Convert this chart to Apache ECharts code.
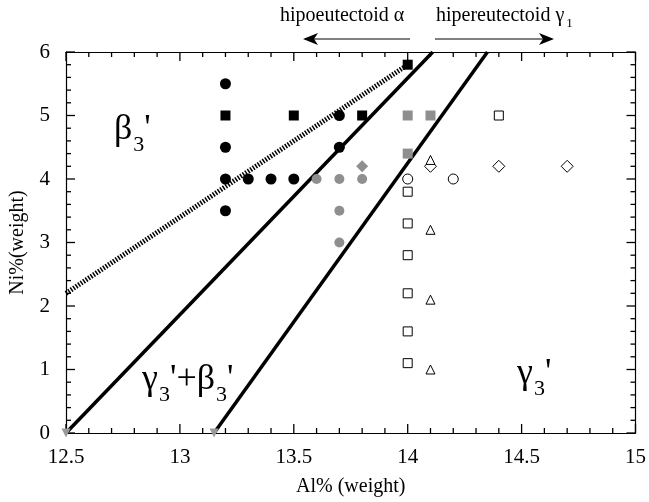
<!DOCTYPE html>
<html>
<head>
<meta charset="utf-8">
<script src="https://cdn.jsdelivr.net/npm/echarts@6/dist/echarts.min.js"></script>
<style>
  html, body { margin: 0; padding: 0; background: #fff; }
  #chart { width: 649px; height: 502px; }
</style>
</head>
<body>
<div id="chart"></div>
<script>
// boundary lines (Al%, Ni%)
const hatchedLine = [[12.5, 2.2], [14.0, 5.8]];
const solidLine1 = [[12.5, 0], [14.11, 6]];
const solidLine2 = [[13.15, 0], [14.35, 6]];
const axisMarks = [[12.5, 0], [13.15, 0]];

// samples
const blackCircles = [[13.2, 5.5], [13.2, 4.5], [13.2, 4], [13.2, 3.5], [13.3, 4], [13.4, 4], [13.5, 4], [13.7, 5], [13.7, 4.5]];
const blackSquares = [[13.2, 5], [13.5, 5], [13.8, 5], [14.0, 5.8]];
const greyCircles = [[13.6, 4], [13.7, 4], [13.8, 4], [13.7, 3.5], [13.7, 3.0]];
const greyDiamonds = [[13.8, 4.2]];
const greySquares = [[14.0, 5], [14.1, 5], [14.0, 4.4]];
const openSquares = [[14.0, 3.8], [14.0, 3.3], [14.0, 2.8], [14.0, 2.2], [14.0, 1.6], [14.0, 1.1], [14.4, 5]];
const openCircles = [[14.0, 4], [14.2, 4]];
const openDiamonds = [[14.1, 4.2], [14.4, 4.2], [14.7, 4.2]];
const openTriangles = [[14.1, 4.3], [14.1, 3.2], [14.1, 2.1], [14.1, 1.0]];

const xTicks = [12.5, 13, 13.5, 14, 14.5, 15];
const yTicks = [0, 1, 2, 3, 4, 5, 6];
const xMinorStep = 0.1;
const yMinorStep = 0.2;

const serif = 'Liberation Serif';
const xMin = xTicks[0], xMax = xTicks[xTicks.length - 1];
const yMin = yTicks[0], yMax = yTicks[yTicks.length - 1];

function minorOf(major, step) {
  const out = [];
  for (let i = 0; i < major.length - 1; i++) {
    for (let k = 1; k < 5; k++) out.push(+(major[i] + k * step).toFixed(2));
  }
  return out;
}
const xMinor = minorOf(xTicks, xMinorStep);
const yMinor = minorOf(yTicks, yMinorStep);

const chart = echarts.init(document.getElementById('chart'));

function pts(data, symbol, size, color, open) {
  return {
    type: 'scatter', data: data, symbol: symbol, symbolSize: size, z: 5,
    itemStyle: open
      ? { color: '#fff', borderColor: '#000', borderWidth: 1, opacity: 1 }
      : { color: color, opacity: 1 }
  };
}
function line(data, width, type) {
  return {
    type: 'line', data: data, symbol: 'none', z: 3,
    lineStyle: { color: '#000', width: width, type: type || 'solid' }
  };
}
// inward tick marks as thin rect symbols placed on the frame
function ticks(data, size, offset) {
  return {
    type: 'scatter', data: data, symbol: 'rect', symbolSize: size, symbolOffset: offset,
    clip: false, silent: true, z: 6,
    itemStyle: { color: '#000', opacity: 1 }
  };
}
const L = 9, l = 5, w = 1.3;

function frame() {
  return {
    axisLine: { show: true, onZero: false, lineStyle: { color: '#000', width: 1.2 } },
    axisTick: { show: false },
    splitLine: { show: false }
  };
}

const sub = { fontFamily: serif, fontSize: 22, color: '#000', verticalAlign: 'top', padding: [22, 0, 0, 1] };
const big = { fontFamily: serif, fontSize: 36, color: '#000', verticalAlign: 'top' };

chart.setOption({
  animation: false,
  grid: { left: 60.5, right: 11, top: 52, bottom: 63 },
  xAxis: [
    Object.assign({
      type: 'value', min: xMin, max: xMax, interval: 0.5,
      name: 'Al% (weight)', nameLocation: 'middle', nameGap: 44,
      nameTextStyle: { fontFamily: serif, fontSize: 20, color: '#000' },
      axisLabel: { fontFamily: serif, fontSize: 21, color: '#000', margin: 14 }
    }, frame()),
    Object.assign({
      type: 'value', position: 'top', min: xMin, max: xMax, interval: 0.5,
      axisLabel: { show: false }
    }, frame())
  ],
  yAxis: [
    Object.assign({
      type: 'value', min: yMin, max: yMax, interval: 1,
      name: 'Ni%(weight)', nameLocation: 'middle', nameGap: 38,
      nameTextStyle: { fontFamily: serif, fontSize: 20, color: '#000' },
      axisLabel: { fontFamily: serif, fontSize: 21, color: '#000', margin: 16 }
    }, frame()),
    Object.assign({
      type: 'value', position: 'right', min: yMin, max: yMax, interval: 1,
      axisLabel: { show: false }
    }, frame())
  ],
  series: [
    ticks(xTicks.map(v => [v, yMin]), [w, L], [0, -L / 2]),
    ticks(xTicks.map(v => [v, yMax]), [w, L], [0, L / 2]),
    ticks(xMinor.map(v => [v, yMin]), [w, l], [0, -l / 2]),
    ticks(xMinor.map(v => [v, yMax]), [w, l], [0, l / 2]),
    ticks(yTicks.map(v => [xMin, v]), [L, w], [L / 2, 0]),
    ticks(yTicks.map(v => [xMax, v]), [L, w], [-L / 2, 0]),
    ticks(yMinor.map(v => [xMin, v]), [l, w], [l / 2, 0]),
    ticks(yMinor.map(v => [xMax, v]), [l, w], [-l / 2, 0]),
    line(hatchedLine, 5, [1.5, 1.5]),
    line(solidLine1, 3.5),
    line(solidLine2, 3.5),
    Object.assign(pts(axisMarks, 'triangle', 9, '#999'), { symbolRotate: 180, clip: false, z: 7 }),
    pts(blackCircles, 'circle', 11, '#000'),
    pts(blackSquares, 'rect', 10, '#000'),
    pts(greyCircles, 'circle', 10, '#8f8f8f'),
    pts(greyDiamonds, 'diamond', 12, '#8f8f8f'),
    pts(greySquares, 'rect', 10, '#8f8f8f'),
    pts(openSquares, 'rect', 9, null, true),
    pts(openCircles, 'circle', 10, null, true),
    pts(openDiamonds, 'diamond', 12, null, true),
    pts(openTriangles, 'triangle', 9, null, true)
  ],
  graphic: [
    { type: 'text', left: 114, top: 112, z: 10,
      style: { text: '{b|β}{s|3}{b|\'}', rich: { b: big, s: sub } } },
    { type: 'text', left: 142, top: 362, z: 10,
      style: { text: '{b|γ}{s|3}{b|\'+β}{s|3}{b|\'}', rich: { b: big, s: sub } } },
    { type: 'text', left: 517, top: 356, z: 10,
      style: { text: '{b|γ}{s|3}{b|\'}', rich: { b: big, s: sub } } },
    { type: 'text', left: 280, top: 6, z: 10,
      style: { text: 'hipoeutectoid α', fontFamily: serif, fontSize: 20, fill: '#000' } },
    { type: 'text', left: 436, top: 6, z: 10,
      style: { text: '{a|hipereutectoid γ}{s|1}', rich: {
        a: { fontFamily: serif, fontSize: 20, color: '#000', verticalAlign: 'top' },
        s: { fontFamily: serif, fontSize: 13, color: '#000', verticalAlign: 'top', padding: [11, 0, 0, 2] } } } },
    { type: 'line', shape: { x1: 410, y1: 39, x2: 312, y2: 39 }, style: { stroke: '#000', lineWidth: 1 } },
    { type: 'polygon', shape: { points: [[303, 39], [318, 33], [314, 39], [318, 45]] }, style: { fill: '#000' } },
    { type: 'line', shape: { x1: 435, y1: 39, x2: 545, y2: 39 }, style: { stroke: '#000', lineWidth: 1 } },
    { type: 'polygon', shape: { points: [[554, 39], [539, 33], [543, 39], [539, 45]] }, style: { fill: '#000' } }
  ]
});
</script>
</body>
</html>
